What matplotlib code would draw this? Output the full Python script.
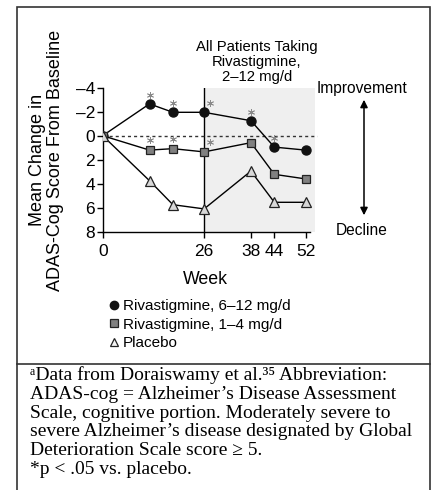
import matplotlib
matplotlib.use("Agg")
import matplotlib.pyplot as plt
import matplotlib.transforms as mtransforms
from matplotlib.lines import Line2D
from matplotlib.patches import Rectangle, FancyArrowPatch

# ---------------- data ----------------
weeks = [0, 12, 18, 26, 38, 44, 52]
riva_high = [0, -2.65, -1.95, -1.95, -1.25, 0.95, 1.2]
riva_low = [0, 1.2, 1.08, 1.35, 0.58, 3.22, 3.6]
placebo = [0, 3.75, 5.75, 6.1, 2.95, 5.55, 5.55]
sig_high_weeks = [12, 18, 26, 38, 44]
sig_low_weeks = [12, 18, 26]
yticks = [-4, -2, 0, 2, 4, 6, 8]
xticks = [0, 26, 38, 44, 52]
legend_labels = ["Rivastigmine, 6\u201312 mg/d", "Rivastigmine, 1\u20134 mg/d", "Placebo"]
footnote_lines = [
    "\u1d43Data from Doraiswamy et al.\u00b3\u2075 Abbreviation:",
    "ADAS-cog = Alzheimer\u2019s Disease Assessment",
    "Scale, cognitive portion. Moderately severe to",
    "severe Alzheimer\u2019s disease designated by Global",
    "Deterioration Scale score \u2265 5.",
    "*p < .05 vs. placebo.",
]

W, H = 432, 490
plt.rcParams["font.family"] = ["Liberation Sans", "DejaVu Sans"]

fig = plt.figure(figsize=(W / 100, H / 100), dpi=100)

def fx(x):
    return x / W

def fy(y):
    return 1 - y / H

# axes placement
x0_px, x1_px = 102.7, 314.5
ytop_px, ybot_px = 87.7, 231.7
ax = fig.add_axes([fx(x0_px), fy(ybot_px), (x1_px - x0_px) / W, (ybot_px - ytop_px) / H])
ax.set_xlim(0, 54.3)
ax.set_ylim(8, -4)
ax.patch.set_alpha(0)

for s in ["top", "right"]:
    ax.spines[s].set_visible(False)
ax.spines["bottom"].set_bounds(0, 53.2)
ax.spines["left"].set_linewidth(1.0)
ax.spines["bottom"].set_linewidth(1.0)

ax.set_yticks(yticks)
ax.set_yticklabels([("\u2013" + str(-v)) if v < 0 else str(v) for v in yticks])
ax.set_xticks(xticks)
ax.tick_params(axis="both", labelsize=12.5, length=4, width=1.0, direction="out", pad=1.5, colors="black")
ax.tick_params(axis="x", pad=4.5)

# shaded open-label period
ax.axvspan(26, 54.3, color="#efefef", zorder=0, lw=0)
ax.axvline(26, color="black", lw=1.0, zorder=1)
ax.axhline(0, xmin=0, xmax=55 / 54.3, color="#333333", lw=1.0, ls=(0, (2.2, 2.2)), clip_on=False, zorder=1)

ax.plot(weeks, riva_high, color="black", lw=1.0, marker="o", ms=6.5, mfc="#111111", mec="#111111", zorder=3)
ax.plot(weeks, riva_low, color="black", lw=1.0, marker="s", ms=6.0, mfc="#808080", mec="#222222", mew=0.9, zorder=4)
ax.plot(weeks, placebo, color="black", lw=1.0, marker="^", ms=7.2, mfc="#d8d8d8", mec="#222222", mew=0.9, zorder=5)

def star(wk, series, dy):
    i = weeks.index(wk)
    dx = 6 if wk == 26 else 0
    tr = mtransforms.offset_copy(ax.transData, fig=fig, x=dx, y=dy, units="dots")
    ax.plot([wk], [series[i]], transform=tr, marker=(6, 2, 0), ms=5, mec="#8a8a8a",
            mew=0.6, ls="none", clip_on=False, zorder=6)

for wk in sig_high_weeks:
    star(wk, riva_high, 9)
for wk in sig_low_weeks:
    star(wk, riva_low, 10)

# texts
fig.text(fx(257), fy(62), "All Patients Taking\nRivastigmine,\n2\u201312 mg/d", ha="center", va="center",
         fontsize=10.7, linespacing=1.12)
fig.text(fx(362), fy(88), "Improvement", ha="center", va="center", fontsize=11.2)
fig.text(fx(362), fy(230), "Decline", ha="center", va="center", fontsize=11.2)
fig.add_artist(FancyArrowPatch((fx(364), fy(218)), (fx(364), fy(97)), transform=fig.transFigure,
                               arrowstyle="<|-|>", mutation_scale=11, color="black", lw=1.1))

fig.text(fx(205), fy(279), "Week", ha="center", va="center", fontsize=12.8)
fig.text(fx(38), fy(160), "Mean Change in", rotation=90, ha="center", va="center", fontsize=13)
fig.text(fx(55), fy(160), "ADAS-Cog Score From Baseline", rotation=90, ha="center", va="center", fontsize=13)

handles = [
    Line2D([], [], ls="none", marker="o", ms=6.0, mfc="#111111", mec="#111111"),
    Line2D([], [], ls="none", marker="s", ms=5.6, mfc="#808080", mec="#222222", mew=0.9),
    Line2D([], [], ls="none", marker="^", ms=6.0, mfc="#f4f4f4", mec="#222222", mew=0.9),
]
fig.legend(handles, legend_labels, loc="upper left", bbox_to_anchor=(fx(109.4), fy(299)),
           frameon=False, fontsize=11, handlelength=0.6, handletextpad=0.29, labelspacing=0.3,
           borderpad=0, borderaxespad=0)

# frame and divider
fig.add_artist(Rectangle((fx(17.3), -0.02), (430 - 17.3) / W, fy(7.3) + 0.02, transform=fig.transFigure,
                         fill=False, ec="#333333", lw=1.2))
fig.add_artist(Line2D([fx(17.3), fx(430)], [fy(364), fy(364)], transform=fig.transFigure, color="#333333", lw=1.2))

fig.text(fx(30.5), fy(366.5), "\n".join(footnote_lines), ha="left", va="top", fontsize=14.0,
         linespacing=1.13, family=["Liberation Serif", "DejaVu Serif"])

fig.savefig("out.png", dpi=100)
